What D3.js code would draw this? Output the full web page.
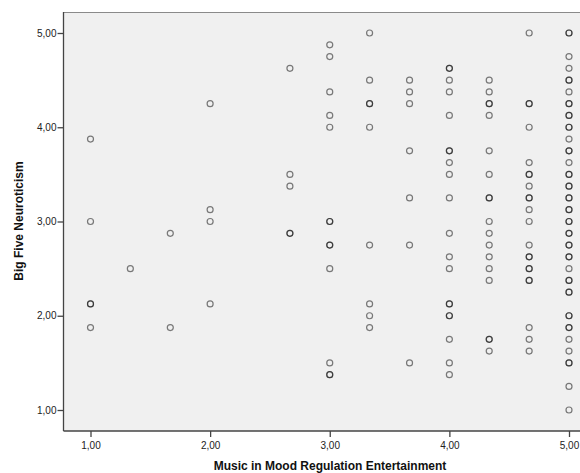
<!DOCTYPE html>
<html>
<head>
<meta charset="utf-8">
<script src="https://cdn.jsdelivr.net/npm/d3@7"></script>
<style>
  body { margin: 0; background: #fff; }
  svg { display: block; font-family: "Liberation Sans", Arial, sans-serif; }
</style>
</head>
<body>
<svg id="chart" width="580" height="473"></svg>
<script>
// x levels (Music in Mood Regulation Entertainment)
const entertainment = [1.0, 1.333, 1.667, 2.0, 2.667, 3.0, 3.333, 3.667, 4.0, 4.333, 4.667, 5.0];

// Big Five Neuroticism values per x level (repeats = overlapping cases)
const neuroticism = [
  [3.875, 3.0, 2.125, 2.125, 1.875],
  [2.5],
  [2.875, 1.875],
  [4.25, 3.125, 3.0, 2.125],
  [4.625, 3.5, 3.375, 2.875, 2.875],
  [4.875, 4.75, 4.375, 4.125, 4.0, 3.0, 3.0, 2.75, 2.75, 2.5, 1.5, 1.375, 1.375],
  [5.0, 4.5, 4.25, 4.25, 4.0, 2.75, 2.125, 2.0, 1.875],
  [4.5, 4.375, 4.25, 3.75, 3.25, 2.75, 1.5],
  [4.625, 4.625, 4.5, 4.375, 4.125, 3.75, 3.75, 3.625, 3.5, 3.25, 2.875, 2.625, 2.5,
   2.125, 2.125, 2.0, 2.0, 1.75, 1.5, 1.375],
  [4.5, 4.375, 4.25, 4.25, 4.125, 3.75, 3.5, 3.25, 3.25, 3.0, 2.875, 2.75, 2.625, 2.5,
   2.375, 1.75, 1.75, 1.625],
  [5.0, 4.25, 4.25, 4.0, 3.625, 3.5, 3.5, 3.375, 3.25, 3.25, 3.125, 3.0, 2.75, 2.625,
   2.625, 2.5, 2.5, 2.375, 2.375, 1.875, 1.75, 1.625],
  [5.0, 5.0, 4.75, 4.625, 4.5, 4.5, 4.375, 4.25, 4.25, 4.125, 4.125, 4.0, 4.0, 3.875,
   3.75, 3.75, 3.625, 3.5, 3.5, 3.375, 3.375, 3.25, 3.25, 3.125, 3.125, 3.0, 3.0,
   2.875, 2.875, 2.75, 2.75, 2.625, 2.625, 2.5, 2.375, 2.375, 2.25, 2.25, 2.0, 2.0,
   1.875, 1.875, 1.75, 1.625, 1.5, 1.5, 1.25, 1.0]
];

const xTicks = [1, 2, 3, 4, 5];
const yTicks = [1, 2, 3, 4, 5];
const fmt = d => d3.format(".2f")(d).replace(".", ",");

const points = [];
entertainment.forEach((x, i) => neuroticism[i].forEach(y => points.push({x, y})));

const svg = d3.select("#chart");
const plot = {left: 63.5, top: 12, right: 580, bottom: 431};

const xScale = d3.scaleLinear().domain([1, 5]).range([90.5, 569]);
const yScale = d3.scaleLinear().domain([1, 5]).range([410, 33]);

svg.append("rect")
   .attr("x", plot.left).attr("y", plot.top)
   .attr("width", plot.right - plot.left).attr("height", plot.bottom - plot.top)
   .attr("fill", "#f0f0f0");

// top frame line
svg.append("line")
   .attr("x1", plot.left).attr("x2", plot.right)
   .attr("y1", plot.top + 0.5).attr("y2", plot.top + 0.5)
   .attr("stroke", "#8a8a8a").attr("stroke-width", 1.2);

const xAxis = d3.axisBottom(xScale).tickValues(xTicks).tickFormat(fmt).tickSize(6).tickSizeOuter(0);
const yAxis = d3.axisLeft(yScale).tickValues(yTicks).tickFormat(fmt).tickSize(6).tickSizeOuter(0);

const gx = svg.append("g")
   .attr("id", "x-axis")
   .attr("transform", `translate(0,${plot.bottom})`)
   .call(xAxis);
gx.select(".domain").attr("d", `M${plot.left},0H${plot.right}`);

const gy = svg.append("g")
   .attr("id", "y-axis")
   .attr("transform", `translate(${plot.left},0)`)
   .call(yAxis);
gy.select(".domain").attr("d", `M0,${plot.top}V${plot.bottom}`);

svg.selectAll("#x-axis .domain, #y-axis .domain, .tick line")
   .attr("stroke", "#444").attr("stroke-width", 1.3);
svg.selectAll(".tick text")
   .attr("font-size", 10).attr("fill", "#222")
   .attr("font-family", "Liberation Sans, Arial, sans-serif");
gx.selectAll(".tick text").attr("dy", "0.95em").attr("y", 8);
gy.selectAll(".tick text").attr("x", -7);

svg.selectAll(".dot")
   .data(points)
   .enter()
   .append("circle")
   .attr("class", "dot")
   .attr("cx", d => xScale(d.x))
   .attr("cy", d => yScale(d.y))
   .attr("r", 3)
   .attr("fill", "none")
   .attr("stroke", "#000")
   .attr("stroke-opacity", 0.5)
   .attr("stroke-width", 1.2);

svg.append("text")
   .attr("x", 330).attr("y", 470)
   .attr("text-anchor", "middle")
   .attr("font-size", 12).attr("font-weight", "bold").attr("fill", "#111")
   .text("Music in Mood Regulation Entertainment");

svg.append("text")
   .attr("transform", "translate(23,221) rotate(-90)")
   .attr("text-anchor", "middle")
   .attr("font-size", 12).attr("font-weight", "bold").attr("fill", "#111")
   .text("Big Five Neuroticism");
</script>
</body>
</html>
